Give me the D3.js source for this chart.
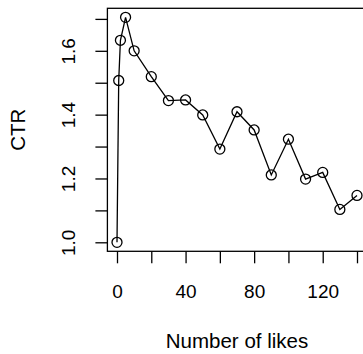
<!DOCTYPE html>
<html>
<head>
<meta charset="utf-8">
<script src="https://cdn.jsdelivr.net/npm/d3@7"></script>
<style>
  body { margin: 0; background: #fff; }
  svg { display: block; font-family: "Liberation Sans", Arial, Helvetica, sans-serif; }
</style>
</head>
<body>
<div id="chart"></div>
<script>
// data
var likes = [0, 1, 2, 5, 10, 20, 30, 40, 50, 60, 70, 80, 90, 100, 110, 120, 130, 140];
var ctr = [1.0, 1.507, 1.633, 1.705, 1.6, 1.519, 1.444, 1.446, 1.399, 1.292,
           1.409, 1.352, 1.211, 1.323, 1.198, 1.219, 1.103, 1.147];
var xTicks = [0, 20, 40, 60, 80, 100, 120, 140];
var xLabels = ["0", "", "40", "", "80", "", "120", ""];
var yTicks = [1.0, 1.1, 1.2, 1.3, 1.4, 1.5, 1.6, 1.7];
var yLabels = ["1.0", "", "1.2", "", "1.4", "", "1.6", ""];

var W = 363, H = 354;
var plot = { left: 107.4, right: 366.6, top: 8.3, bottom: 251.3 };
var tickFont = 19, labFont = 20.5;

// R style 4% axis expansion
function expand(ext) {
  var d = (ext[1] - ext[0]) * 0.04;
  return [ext[0] - d, ext[1] + d];
}

var x = d3.scaleLinear()
  .domain(expand(d3.extent(likes)))
  .range([plot.left, plot.right]);

var y = d3.scaleLinear()
  .domain(expand(d3.extent(ctr)))
  .range([plot.bottom, plot.top]);

var svg = d3.select("#chart").append("svg")
  .attr("width", W)
  .attr("height", H);

// x axis
var xAxis = d3.axisBottom(x)
  .tickValues(xTicks)
  .tickSize(12)
  .tickFormat(function(d, i) { return xLabels[i]; });

var gx = svg.append("g")
  .attr("transform", "translate(0," + plot.bottom + ")")
  .call(xAxis);
gx.select(".domain").remove();
gx.selectAll(".tick line").attr("stroke", "#000").attr("stroke-width", 1.3);
gx.selectAll(".tick text")
  .attr("y", 47)
  .attr("dy", null)
  .attr("font-size", tickFont)
  .attr("font-family", null)
  .attr("fill", "#000");

// y axis
var yAxis = d3.axisLeft(y)
  .tickValues(yTicks)
  .tickSize(12)
  .tickFormat(function(d, i) { return yLabels[i]; });

var gy = svg.append("g")
  .attr("transform", "translate(" + plot.left + ",0)")
  .call(yAxis);
gy.select(".domain").remove();
gy.selectAll(".tick line").attr("stroke", "#000").attr("stroke-width", 1.3);
gy.selectAll(".tick text")
  .attr("x", null)
  .attr("dy", null)
  .attr("text-anchor", "middle")
  .attr("transform", "translate(-32,0) rotate(-90)")
  .attr("font-size", tickFont)
  .attr("font-family", null)
  .attr("fill", "#000");

// box
svg.append("rect")
  .attr("x", plot.left)
  .attr("y", plot.top)
  .attr("width", plot.right - plot.left)
  .attr("height", plot.bottom - plot.top)
  .attr("fill", "none")
  .attr("stroke", "#000")
  .attr("stroke-width", 1.3);

// line + points
var pts = likes.map(function(v, i) { return [v, ctr[i]]; });

svg.append("path")
  .datum(pts)
  .attr("fill", "none")
  .attr("stroke", "#000")
  .attr("stroke-width", 1.3)
  .attr("d", d3.line()
    .x(function(d) { return x(d[0]); })
    .y(function(d) { return y(d[1]); }));

svg.selectAll(".pt")
  .data(pts).enter()
  .append("circle")
  .attr("class", "pt")
  .attr("cx", function(d) { return x(d[0]); })
  .attr("cy", function(d) { return y(d[1]); })
  .attr("r", 5)
  .attr("fill", "none")
  .attr("stroke", "#000")
  .attr("stroke-width", 1.3);

// axis titles
svg.append("text")
  .attr("x", (plot.left + plot.right) / 2)
  .attr("y", 348)
  .attr("text-anchor", "middle")
  .attr("font-size", labFont)
  .attr("fill", "#000")
  .text("Number of likes");

svg.append("text")
  .attr("transform", "translate(25," + ((plot.top + plot.bottom) / 2) + ") rotate(-90)")
  .attr("text-anchor", "middle")
  .attr("font-size", labFont)
  .attr("fill", "#000")
  .text("CTR");
</script>
</body>
</html>
